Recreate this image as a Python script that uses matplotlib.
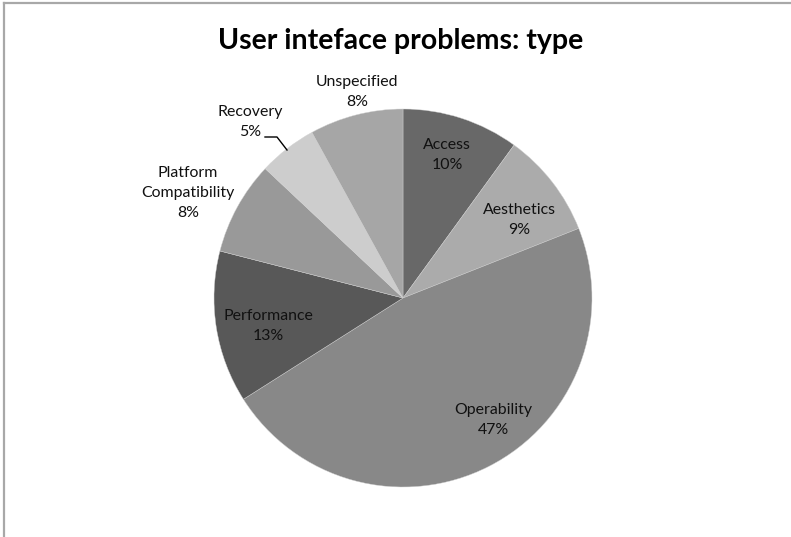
import matplotlib
matplotlib.use("Agg")
import matplotlib.pyplot as plt

# ---------------------------------------------------------------------------
# Data
# ---------------------------------------------------------------------------
CATEGORIES = ["Access", "Aesthetics", "Operability", "Performance",
              "Platform\nCompatibility", "Recovery", "Unspecified"]
PERCENTS = [10, 9, 47, 13, 8, 5, 8]
COLORS = ["#686868", "#ababab", "#888888", "#585858",
          "#999999", "#cdcdcd", "#a6a6a6"]

# label centres in pixel coordinates (x, y from top)
LABEL_POS = [(447, 155), (519, 220), (493, 420), (268, 326),
             (188, 193), (250, 122), (357, 92)]

W, H = 791, 537
CX, CY, R = 403, 298, 189

plt.rcParams["font.family"] = ["Lato", "DejaVu Sans"]

fig = plt.figure(figsize=(W / 100, H / 100), dpi=100)
ax = fig.add_axes([0, 0, 1, 1])

ax.pie(PERCENTS, colors=COLORS, startangle=90, counterclock=False,
       center=(CX, H - CY), radius=R,
       wedgeprops={"edgecolor": "#d0d0d0", "linewidth": 0.3})

for name, pct, (lx, ly) in zip(CATEGORIES, PERCENTS, LABEL_POS):
    ax.text(lx, H - ly, f"{name}\n{pct}%", ha="center", va="center",
            fontsize=11.4, color="#111111", linespacing=1.55)

# leader line for the small Recovery slice
ax.plot([265, 277, 287], [H - 137, H - 137, H - 150], color="black", lw=1.0)

# chart border (top + left visible)
ax.plot([4, W], [H - 3, H - 3], color="#a8a8a8", lw=1.6)
ax.plot([4, 4], [H - 3, 0], color="#a8a8a8", lw=1.6)

ax.set_xlim(0, W)
ax.set_ylim(0, H)
ax.set_aspect("auto")
ax.axis("off")

fig.text(401 / W, 1 - 41 / H, "User inteface problems: type",
         ha="center", va="center", fontsize=20.5, fontweight="bold")

fig.savefig("out.png", dpi=100)
